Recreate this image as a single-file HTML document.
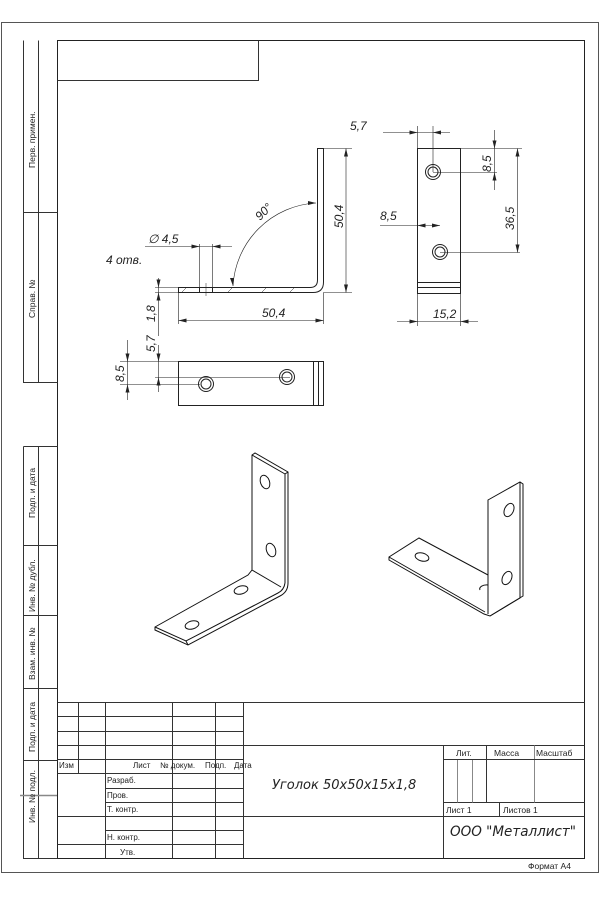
<!DOCTYPE html>
<html><head><meta charset="utf-8"><style>
html,body{margin:0;padding:0;background:#fff}
svg{display:block}
text{font-family:"Liberation Sans",sans-serif;fill:#222}
.i{font-family:"DejaVu Sans","Liberation Sans",sans-serif;font-style:italic}
</style></head><body>
<svg width="600" height="900" viewBox="0 0 600 900" xmlns="http://www.w3.org/2000/svg">
<g fill="none" stroke="#333" stroke-width="1">
<rect x="1.5" y="22.5" width="597" height="850" stroke="#555"/>
<rect x="57.5" y="40.5" width="527" height="818" stroke="#222"/>
<path d="M57.5 80.5H258.5V40.5"/>
<path d="M23.5 40.5V382.5H57.5M38.5 40.5V382.5M23.5 212.5H57.5"/>
<path d="M23.5 446.5V858.5H57.5M38.5 446.5V858.5M23.5 446.5H57.5M23.5 545.5H57.5M23.5 615.5H57.5M23.5 688.5H57.5M23.5 760.5H57.5"/>
<path d="M20 795.5H57" stroke="#888" stroke-width="1.5"/>
<path d="M57.5 702.5H584.5M57.5 716.5H243M57.5 731.5H243M57.5 745.5H584.5M57.5 759.5H243M57.5 773.5H243M105 788.5H243M105 802.5H243M57.5 816.5H443M443 802.5H584.5M443 816.5H584.5M105 830.5H243M57.5 844.5H243"/>
<path d="M78.5 702.5V773.5M105.5 702.5V858.5M172.5 702.5V858.5M215.5 702.5V858.5M243.5 702.5V858.5M443.5 745.5V858.5M486.5 745.5V802.5M499.5 802.5V816.5"/>
<path d="M457.5 759.5V802.5M472.5 759.5V802.5M534.5 745.5V802.5" stroke="#888"/>
<path d="M443 759.5H584.5"/>
</g>
<g font-size="8.5">
<text transform="translate(35,168) rotate(-90)">Перв. примен.</text>
<text transform="translate(35,318) rotate(-90)">Справ. №</text>
<text transform="translate(35,518) rotate(-90)">Подп. и дата</text>
<text transform="translate(35,612) rotate(-90)">Инв. № дубл.</text>
<text transform="translate(35,680) rotate(-90)">Взам. инв. №</text>
<text transform="translate(35,752) rotate(-90)">Подп. и дата</text>
<text transform="translate(35,823) rotate(-90)">Инв. № подл.</text>
<text x="59" y="768" font-size="8">Изм</text>
<text x="133" y="768" font-size="8">Лист</text>
<text x="160" y="768" font-size="8">№ докум.</text>
<text x="205" y="768" font-size="8">Подп.</text>
<text x="234" y="768" font-size="8">Дата</text>
<text x="107" y="783" font-size="8">Разраб.</text>
<text x="107" y="798" font-size="8">Пров.</text>
<text x="107" y="812" font-size="8">Т. контр.</text>
<text x="107" y="840" font-size="8">Н. контр.</text>
<text x="120" y="855" font-size="8">Утв.</text>
<text x="456" y="756">Лит.</text>
<text x="494" y="756">Масса</text>
<text x="536" y="756">Масштаб</text>
<text x="446" y="813">Лист 1</text>
<text x="503" y="813">Листов 1</text>
<text x="528" y="869">Формат А4</text>
</g>
<text class="i" x="272" y="789" font-size="13">Уголок 50x50x15x1,8</text>
<text class="i" x="450" y="836" font-size="14" textLength="126" lengthAdjust="spacingAndGlyphs">ООО  "Металлист"</text>
<g fill="none" stroke="#222" stroke-width="1">
<path d="M317.5 148.5V280Q317.5 287.5 310 287.5H178.5V292.5H313Q323.5 292.5 323.5 282V148.5Z"/>
<path d="M199.5 287.5V292.5M212.5 287.5V292.5" />
<path d="M199.5 244V287M212.5 244V287" stroke-width=".6"/>
<path d="M182 292L186 288M228 292L232 288M262 292L266 288M290 292L294 288" stroke-width=".5"/>
<path d="M206 283V296" stroke-width=".5"/>
<g stroke-width=".6">
<path d="M323 148.5H352M346 148.5V292.5M323 292.5H352"/>
<path d="M178.5 293V324M323.5 293V324M178.5 320.5H323.5"/>
<path d="M145 246.5H232"/>
<path d="M316 203A88 88 0 0 0 233 286"/>
<path d="M155 287.5H178M155 292.5H178M158.5 278V336"/>
<path d="M120 361.5H178M120 384.5H200M127.5 340V400M155 377.5H290M158.5 345V392"/>
</g>
</g>
<g fill="#222">
<path d="M346 148.5l-2 8h4zM346 292.5l-2-8h4zM178.5 320.5l8-2v4zM323.5 320.5l-8-2v4z"/>
<path d="M199.5 246.5l-8-2v4zM212.5 246.5l8-2v4z"/>
<path d="M316 203l-8-2v4zM233 286l-3-8 4 0z"/>
<path d="M158.5 287.5l-2-8h4zM158.5 292.5l2 8h-4zM127.5 361.5l-2-8h4zM127.5 384.5l2 8h-4zM158.5 361.5l-2-8h4zM158.5 377.5l2 8h-4z"/>
</g>
<g class="i" font-size="12">
<text x="350" y="130">5,7</text>
<text transform="translate(343,228) rotate(-90)">50,4</text>
<text x="262" y="317">50,4</text>
<text transform="translate(260,221) rotate(-45)">90°</text>
<text x="148" y="243">∅ 4,5</text>
<text x="106" y="264">4  отв.</text>
<text transform="translate(155,322) rotate(-90)">1,8</text>
<text transform="translate(155,352) rotate(-90)">5,7</text>
<text transform="translate(124,382) rotate(-90)">8,5</text>
<text transform="translate(491,172) rotate(-90)">8,5</text>
<text transform="translate(514,230) rotate(-90)">36,5</text>
<text x="380" y="220">8,5</text>
<text x="433" y="318">15,2</text>
</g>
<g fill="none" stroke="#222">
<rect x="178.5" y="361.5" width="145" height="44"/>
<path d="M313.5 361.5V405.5M318.5 361.5V405.5"/>
<circle cx="206" cy="384" r="7.5"/><circle cx="206" cy="384" r="5"/>
<circle cx="287" cy="377" r="7.5"/><circle cx="287" cy="377" r="5"/>
<rect x="417.5" y="148.5" width="43" height="145"/>
<path d="M417.5 282.5H460.5M417.5 287.5H460.5"/>
<circle cx="433" cy="172" r="7.5"/><circle cx="433" cy="172" r="5"/>
<circle cx="440" cy="252" r="7.5"/><circle cx="440" cy="252" r="5"/>
<g stroke-width=".6">
<path d="M383 132.5H450M433 126V172M417.5 126V148M460 148.5H522M433 172.5H497M494.5 130V190M440 252.5H520M517.5 148.5V252.5M380 225.5H440M417.5 294V326M460.5 294V326M397 321.5H478"/>
</g>
</g>
<g fill="#222">
<path d="M417.5 132.5l-8-2v4zM433 132.5l8-2v4zM494.5 148.5l-2-8h4zM494.5 172.5l2 8h-4zM517.5 148.5l-2 8h4zM517.5 252.5l-2-8h4zM417.5 225.5l8-2v4zM440 225.5l-8-2v4zM417.5 321.5l-8-2v4zM460.5 321.5l8-2v4z"/>
</g>
<g fill="none" stroke="#111" stroke-width="1">
<path d="M252 455L255 453L288 472L288 583Q288 592 280 596L188 645L155 630L155 627L248 575L252 570Z"/>
<path d="M252 455L285 474L285 583M285 583Q284 590 278 593L186 641L155 627M186 641L188 645M285 474L288 472"/>
<path d="M252 570L281 587"/>
<ellipse cx="265" cy="482" rx="4.5" ry="7" transform="rotate(-20 265 482)"/>
<ellipse cx="271" cy="550" rx="4.5" ry="7" transform="rotate(-20 271 550)"/>
<ellipse cx="241" cy="590" rx="7" ry="4" transform="rotate(-15 241 590)"/>
<ellipse cx="192" cy="625" rx="7" ry="4" transform="rotate(-15 192 625)"/>
<path d="M488 500L520 482L523 484L523 596L490 616L484 614L389 560L389 557L419 538L488 575Z"/>
<path d="M488 500V614M520 482V598L490 616M389 557L485 612"/>
<ellipse cx="509" cy="510" rx="4.5" ry="7" transform="rotate(25 509 510)"/>
<ellipse cx="507" cy="578" rx="4.5" ry="7" transform="rotate(25 507 578)"/>
<ellipse cx="422" cy="557" rx="7" ry="4" transform="rotate(15 422 557)"/>
<path d="M488 585A7 4 0 0 0 480 590"/>
</g>
</svg>
</body></html>
